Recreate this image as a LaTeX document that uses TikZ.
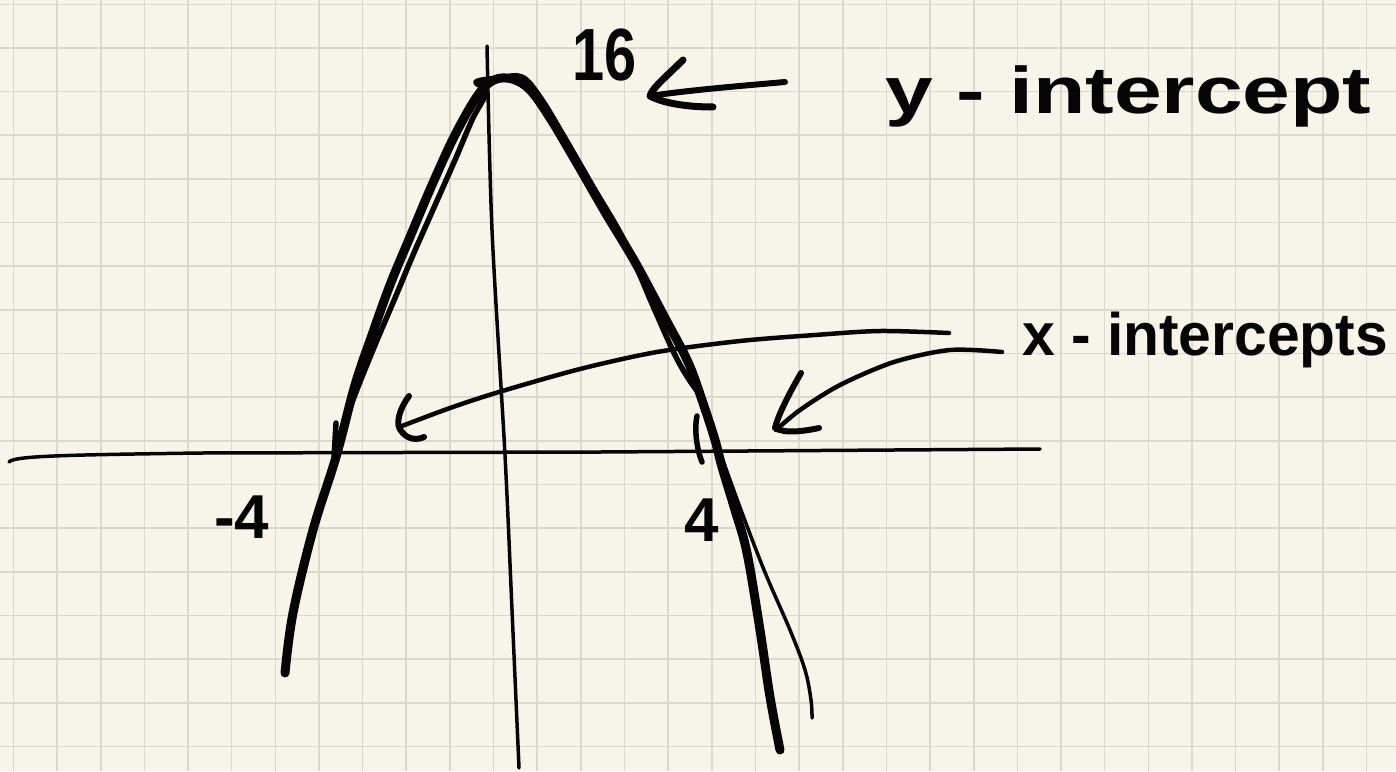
\documentclass[tikz,border=0pt]{standalone}
\usepackage{fontspec}
\setmainfont{Liberation Sans}
\definecolor{paper}{HTML}{F7F5EA}
\definecolor{gridc}{HTML}{DAD9CD}
\definecolor{ink}{HTML}{050505}
\begin{document}
\begin{tikzpicture}[x=1pt,y=-1pt,
  gridline/.style={gridc,line width=1.6pt},
  axisline/.style={ink,line width=3.5pt,line cap=round,line join=round},
  curvethick/.style={ink,line width=9pt,line cap=round,line join=round},
  curvemid/.style={ink,line width=5.5pt,line cap=round,line join=round},
  curvethin/.style={ink,line width=3.5pt,line cap=round,line join=round},
  arrowline/.style={ink,line width=4.5pt,line cap=round,line join=round},
  barb/.style={ink,line width=7pt,line cap=round,line join=round},
  hand/.style={ink,inner sep=0pt,font=\bfseries}]
\fill[paper] (0,0) rectangle (1396,771);
\useasboundingbox (0,0) rectangle (1396,771);
% grid paper
\foreach \i in {0,...,31} \draw[gridline] ({13.4+43.65*\i},0) -- ({13.4+43.65*\i},771);
\foreach \j in {0,...,17} \draw[gridline] (0,{4.3+43.65*\j}) -- (1396,{4.3+43.65*\j});
% axes
\coordinate (xa1) at (9,462);
\coordinate (xa2) at (1040,449);
\draw[axisline] (xa1) .. controls (14,456) and (60,455) .. (200,453) -- (600,452) -- (xa2);
\coordinate (ya1) at (487,46);
\coordinate (ya2) at (519,768);
\draw[axisline] plot[smooth] coordinates {(ya1) (492,230) (505,455) (512,610) (ya2)};
% parabola strokes
\draw[curvethick] plot[smooth,tension=0.6] coordinates {(285,673) (293,613) (313,530) (336,457) (355,385) (372,335) (390,285) (410,237) (432,185) (455,135) (478,95) (494,80) (512,79) (530,90) (550,118) (575,160) (605,212) (635,262) (665,318) (688,362) (703,403) (715,440) (722,467) (735,510) (747,553) (760,630) (770,697) (780,750)};
\draw[curvemid] plot[smooth,tension=0.6] coordinates {(338,440) (356,392) (375,345) (395,298) (413,255) (432,212) (455,160) (472,120) (486,92) (476,82) (500,78) (522,77) (540,97) (562,133) (592,185) (625,242) (653,306) (675,355) (690,381) (702,397)};
\draw[curvethin] plot[smooth,tension=0.6] coordinates {(704,400) (707,413) (730,480) (762,565) (790,630) (805,670) (811,700) (812,718)};
\draw[curvemid] (697,416) .. controls (694,430) and (697,450) .. (702,462);
\draw[curvemid] (336,423) -- (334,458);
% labels
\node[hand,font=\bfseries\fontsize{74}{74}\selectfont,xscale=0.78,anchor=south west] (l16) at (572,81) {16};
\node[hand,font=\bfseries\fontsize{66}{66}\selectfont,xscale=1.3,anchor=west] (lyi) at (885,96) {y - intercept};
\node[hand,font=\bfseries\fontsize{60}{60}\selectfont,xscale=0.98,anchor=west] (lxi) at (1022,340) {x - intercepts};
\node[hand,font=\bfseries\fontsize{62}{62}\selectfont,anchor=west] (lm4) at (214,517) {-4};
\node[hand,font=\bfseries\fontsize{62}{62}\selectfont,anchor=west] (lp4) at (684,520) {4};
% arrow to y-intercept
\coordinate (ytail) at (785,82);
\coordinate (ytip) at (650,96);
\draw[arrowline,line width=6pt] (ytail) .. controls (740,86) and (690,90) .. (ytip);
\draw[barb] (683,60) .. controls (668,75) and (652,88) .. (ytip) .. controls (665,104) and (690,107) .. (713,107);
% arrow to left x-intercept
\coordinate (xltail) at (949,333);
\coordinate (xltip) at (402,426);
\draw[arrowline] plot[smooth] coordinates {(xltail) (880,331) (815,335) (740,341) (657,352) (580,369) (499,392) (450,408) (xltip)};
\draw[barb,line width=6pt] (409,396) .. controls (400,408) and (394,425) .. (402,432) .. controls (408,440) and (418,440) .. (424,437);
% arrow to right x-intercept
\coordinate (xrtail) at (1002,352);
\coordinate (xrtip) at (776,430);
\draw[arrowline] plot[smooth] coordinates {(xrtail) (950,350) (894,362) (840,385) (800,410) (xrtip)};
\draw[barb,line width=6pt] (801,373) .. controls (790,392) and (778,415) .. (775,428) .. controls (785,434) and (805,431) .. (819,428);
\end{tikzpicture}
\end{document}
